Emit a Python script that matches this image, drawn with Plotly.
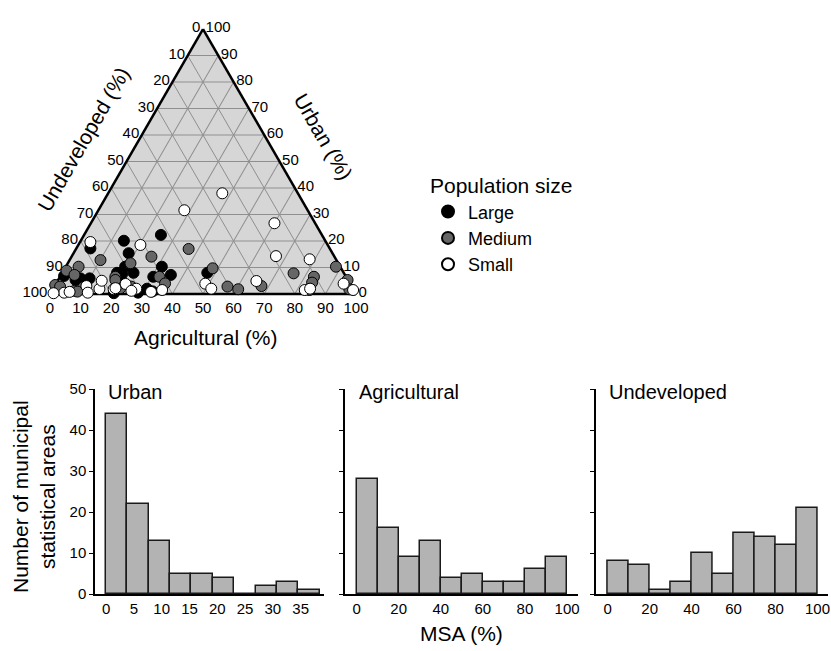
import plotly.graph_objects as go

# ---------------- Ternary data (Urban %, Agricultural %; Undeveloped = remainder) ----------------
large_urban = [22.3, 20.1, 15.4, 17.2, 10.3, 8.0, 7.2, 6.5, 8.0, 7.5, 5.9, 8.0, 2.0, 0.3, 6.8, 5.3, 5.9, 10.3, 7.8, 0.5, 1.0]
large_agri = [25.1, 14.1, 18.0, 4.6, 31.4, 23.3, 35.9, 30.5, 17.9, 19.8, 10.0, 47.4, 30.7, 20.7, 1.2, 5.7, 7.0, 19.4, 19.1, 28.5, 33.0]

medium_urban = [17.0, 14.1, 11.6, 12.8, 10.3, 8.8, 7.2, 6.5, 6.5, 4.0, 9.7, 2.8, 1.8, 3.0, 7.8, 6.5, 4.3,
                10.3, 7.2, 5.3, 1.8, 3.4, 2.8, 1.2, 2.5, 2.2, 2.8, 5.3, 0.9, 1.5]
medium_agri = [36.8, 26.1, 20.5, 10.1, 4.2, 1.0, 4.4, 18.1, 32.5, 35.6, 48.3, 56.6, 60.6, 67.6, 75.7, 83.0, 83.5,
               88.3, 92.9, 94.6, 96.9, 0.0, 1.9, 7.4, 9.6, 21.9, 25.1, 18.7, 8.5, 84.0]

small_urban = [38.0, 31.6, 26.7, 18.5, 19.6, 14.3, 13.1, 4.9, 3.9, 1.5, 1.5, 3.9, 2.0, 1.5, 0.8, 2.0, 3.8, 1.8,
               1.9, 5.0, 3.0, 0.5, 0.5, 0.3, 2.2, 2.0, 0.8, 1.2]
small_agri = [37.3, 28.1, 60.0, 20.3, 3.4, 66.7, 78.3, 65.0, 94.0, 98.3, 82.5, 48.8, 51.7, 35.9, 32.6, 27.2, 22.8, 19.9,
              15.2, 14.4, 10.4, 12.1, 4.4, 1.0, 20.3, 84.0, 6.0, 26.0]

ternary_ticks = [0, 10, 20, 30, 40, 50, 60, 70, 80, 90, 100]

# ---------------- Histogram data ----------------
urban_bin_width = 3.84
urban_counts = [44, 22, 13, 5, 5, 4, 0, 2, 3, 1]
agri_bin_width = 10
agri_counts = [28, 16, 9, 13, 4, 5, 3, 3, 6, 9]
undev_bin_width = 10
undev_counts = [8, 7, 1, 3, 10, 5, 15, 14, 12, 21]

urban_xticks = [0, 5, 10, 15, 20, 25, 30, 35]
pct_xticks = [0, 20, 40, 60, 80, 100]
count_yticks = [0, 10, 20, 30, 40, 50]

FONT = "Liberation Sans, Arial, Helvetica, sans-serif"
W, H = 831, 651

def px_x(p):
    return p / W

def px_y(p):
    return 1 - p / H

fig = go.Figure()

groups = [
    ("Large", large_urban, large_agri, "#000000"),
    ("Medium", medium_urban, medium_agri, "#666666"),
    ("Small", small_urban, small_agri, "#ffffff"),
]
for name, u, ag, col in groups:
    fig.add_trace(go.Scatterternary(
        a=u, c=ag, mode="markers", name=name,
        marker=dict(size=11, color=col, line=dict(color="#000000", width=1)),
        cliponaxis=False, showlegend=True,
    ))

def centers(n, w):
    return [w * (i + 0.5) for i in range(n)]

hists = [
    (urban_counts, urban_bin_width, "x", "y"),
    (agri_counts, agri_bin_width, "x2", "y2"),
    (undev_counts, undev_bin_width, "x3", "y3"),
]
for counts, w, xa, ya in hists:
    fig.add_trace(go.Bar(
        x=centers(len(counts), w), y=counts, width=w,
        marker=dict(color="#b3b3b3", line=dict(color="#1a1a1a", width=1.5)),
        xaxis=xa, yaxis=ya, showlegend=False,
    ))

tick_font = dict(family=FONT, size=15, color="#000")
axis_common = dict(
    tickmode="array", tickvals=ternary_ticks, ticks="", showgrid=True,
    gridcolor="#8f8f8f", gridwidth=0.7, linecolor="#000", linewidth=2.5,
    tickfont=tick_font, title=dict(text=""), min=0, layer="below traces",
)
fig.update_layout(
    ternary=dict(
        domain=dict(x=[px_x(49.3), px_x(356.7)], y=[px_y(294), px_y(29)]),
        sum=100, bgcolor="#d6d6d6",
        aaxis=dict(axis_common, ticktext=[str(100 - v) for v in ternary_ticks]),
        baxis=dict(axis_common, ticktext=[str(100 - v) for v in ternary_ticks]),
        caxis=dict(axis_common, ticktext=[str(100 - v) for v in ternary_ticks]),
    )
)

# histogram axes
dom_y = [px_y(594), px_y(389)]
xdoms = [(95, 324), (345, 578), (595.7, 828)]
xranges = [[-2, 39.2], [-5.5, 105.2], [-5.7, 105]]
xtickss = [urban_xticks, pct_xticks, pct_xticks]
for i in range(3):
    sfx = "" if i == 0 else str(i + 1)
    fig.update_layout(**{
        "xaxis" + sfx: dict(
            domain=[px_x(xdoms[i][0]), px_x(xdoms[i][1])], range=xranges[i],
            tickmode="array", tickvals=xtickss[i], ticks="", showgrid=False, zeroline=False,
            showline=True, linecolor="#000", linewidth=1.5, tickfont=tick_font,
            anchor="y" + sfx, automargin=False,
        ),
        "yaxis" + sfx: dict(
            domain=dom_y, range=[0, 50], tickmode="array", tickvals=count_yticks,
            ticks="outside", ticklen=4, tickcolor="#000", tickwidth=1.2,
            showgrid=False, zeroline=False, showline=True, linecolor="#000", linewidth=1.5,
            showticklabels=(i == 0), tickfont=tick_font, anchor="x" + sfx, automargin=False,
        ),
    })

annotations = [
    dict(text="Undeveloped (%)", x=px_x(83), y=px_y(139), textangle=-60),
    dict(text="Urban (%)", x=px_x(323), y=px_y(137), textangle=60),
    dict(text="Agricultural (%)", x=px_x(206), y=px_y(337), textangle=0),
    dict(text="Number of municipal<br>statistical areas", x=px_x(34), y=px_y(497), textangle=-90),
    dict(text="MSA (%)", x=px_x(461), y=px_y(633), textangle=0),
]
annotations = [dict(a, xref="paper", yref="paper", showarrow=False, xanchor="center", yanchor="middle",
                    font=dict(family=FONT, size=21, color="#000")) for a in annotations]
titles = ["Urban", "Agricultural", "Undeveloped"]
for i, t in enumerate(titles):
    sfx = "" if i == 0 else str(i + 1)
    annotations.append(dict(text=t, xref="x" + sfx + " domain", yref="y" + sfx + " domain",
                            x=0.05, y=0.985, xanchor="left", yanchor="middle", showarrow=False,
                            font=dict(family=FONT, size=20, color="#000")))

fig.update_layout(
    width=W, height=H, margin=dict(l=0, r=0, t=0, b=0, pad=0, autoexpand=False),
    paper_bgcolor="#ffffff", plot_bgcolor="#ffffff",
    font=dict(family=FONT, color="#000"),
    annotations=annotations,
    bargap=0,
    legend=dict(
        title=dict(text="Population size", font=dict(family=FONT, size=21, color="#000")),
        font=dict(family=FONT, size=18, color="#000"),
        x=px_x(428), y=px_y(166), xanchor="left", yanchor="top",
        bgcolor="rgba(0,0,0,0)", tracegroupgap=0, itemsizing="constant",
    ),
)

fig.write_html("out.html")
